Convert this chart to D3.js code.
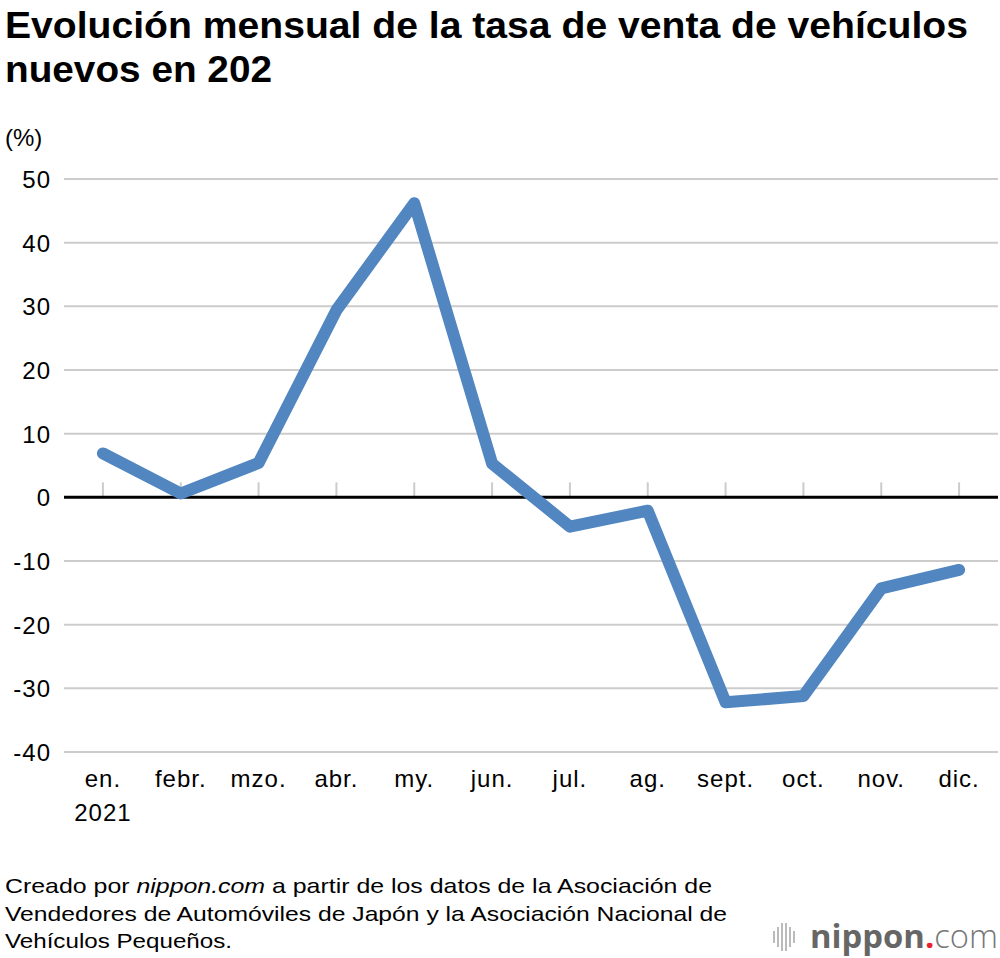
<!DOCTYPE html>
<html lang="es">
<head>
<meta charset="utf-8">
<title>Tasa de venta de vehículos nuevos</title>
<script src="https://d3js.org/d3.v7.min.js"></script>
<style>
  html, body { margin: 0; padding: 0; background: #fff; }
  svg text { font-family: "Liberation Sans", Arial, Helvetica, sans-serif; fill: #000; }
</style>
</head>
<body>
<div id="chart"></div>
<script>
// data
var months = ["en.", "febr.", "mzo.", "abr.", "my.", "jun.", "jul.", "ag.", "sept.", "oct.", "nov.", "dic."];
var rate = [6.9, 0.6, 5.4, 29.4, 46.2, 5.3, -4.6, -2.1, -32.2, -31.2, -14.3, -11.4];
var yTicks = [50, 40, 30, 20, 10, 0, -10, -20, -30, -40];

var w = 1000, h = 958;
var mLeft = 64, mRight = 998, mTop = 179, mBottom = 752;

var svg = d3.select("#chart").append("svg")
  .attr("width", w).attr("height", h);

var x = d3.scaleBand().domain(months).range([mLeft, mRight]);
var y = d3.scaleLinear().domain([-40, 50]).range([mBottom, mTop]);
function cx(m) { return x(m) + x.bandwidth() / 2; }

// title
svg.append("text").attr("x", 5).attr("y", 38)
  .style("font-size", "36px").style("font-weight", "bold")
  .attr("textLength", 963).attr("lengthAdjust", "spacingAndGlyphs")
  .text("Evolución mensual de la tasa de venta de vehículos");
svg.append("text").attr("x", 5).attr("y", 82)
  .style("font-size", "36px").style("font-weight", "bold")
  .attr("textLength", 267).attr("lengthAdjust", "spacingAndGlyphs")
  .text("nuevos en 202");

svg.append("text").attr("x", 5).attr("y", 146)
  .style("font-size", "24px").text("(%)");

// gridlines
svg.append("g").selectAll("line")
  .data(yTicks.filter(function(d) { return d !== 0; }))
  .enter().append("line")
  .attr("x1", mLeft).attr("x2", mRight)
  .attr("y1", function(d) { return y(d); })
  .attr("y2", function(d) { return y(d); })
  .attr("stroke", "#cccccc").attr("stroke-width", 2);

// y labels
svg.append("g").selectAll("text")
  .data(yTicks).enter().append("text")
  .attr("x", 51).attr("y", function(d) { return y(d) + 9; })
  .attr("text-anchor", "end")
  .style("font-size", "24px").style("letter-spacing", "1px")
  .text(function(d) { return d; });

// small ticks at months
svg.append("g").selectAll("line")
  .data(months).enter().append("line")
  .attr("x1", cx).attr("x2", cx)
  .attr("y1", y(0) - 15).attr("y2", y(0))
  .attr("stroke", "#cccccc").attr("stroke-width", 2);

// zero line
svg.append("line")
  .attr("x1", mLeft).attr("x2", mRight)
  .attr("y1", y(0)).attr("y2", y(0))
  .attr("stroke", "#000").attr("stroke-width", 3);

// x labels
svg.append("g").selectAll("text")
  .data(months).enter().append("text")
  .attr("x", cx)
  .attr("y", 787)
  .attr("text-anchor", "middle")
  .style("font-size", "24px").style("letter-spacing", "1px")
  .text(function(d) { return d; });
svg.append("text")
  .attr("x", cx(months[0])).attr("y", 821)
  .attr("text-anchor", "middle")
  .style("font-size", "24px").style("letter-spacing", "1px").text("2021");

// line
var line = d3.line()
  .x(function(d, i) { return cx(months[i]); })
  .y(function(d) { return y(d); });

svg.append("path")
  .datum(rate)
  .attr("d", line)
  .attr("fill", "none")
  .attr("stroke", "#5186c0")
  .attr("stroke-width", 12)
  .attr("stroke-linejoin", "round")
  .attr("stroke-linecap", "round");

// source note
var src = svg.append("text").attr("x", 5).attr("y", 893).style("font-size", "21px")
  .attr("textLength", 707).attr("lengthAdjust", "spacingAndGlyphs");
src.append("tspan").text("Creado por ");
src.append("tspan").style("font-style", "italic").text("nippon.com");
src.append("tspan").text(" a partir de los datos de la Asociación de");
svg.append("text").attr("x", 5).attr("y", 921).style("font-size", "21px")
  .attr("textLength", 722).attr("lengthAdjust", "spacingAndGlyphs")
  .text("Vendedores de Automóviles de Japón y la Asociación Nacional de");
svg.append("text").attr("x", 5).attr("y", 948).style("font-size", "21px")
  .attr("textLength", 227).attr("lengthAdjust", "spacingAndGlyphs")
  .text("Vehículos Pequeños.");

// logo
var logo = svg.append("g");
var bars = [[773, 6], [777, 10], [781, 14], [785, 14], [789, 10], [793, 6]];
logo.selectAll("rect").data(bars).enter().append("rect")
  .attr("x", function(d) { return d[0]; })
  .attr("y", function(d) { return 937 - d[1]; })
  .attr("width", 2).attr("height", function(d) { return d[1] * 2; })
  .attr("fill", "#bbbbbb");
var lt = logo.append("text").attr("x", 810).attr("y", 948)
  .style("font-family", "'Open Sans', sans-serif").style("font-size", "33px")
  .attr("textLength", 188).attr("lengthAdjust", "spacingAndGlyphs");
lt.append("tspan").attr("fill", "#666").style("font-weight", "bold").text("nippon");
lt.append("tspan").attr("fill", "#e8232a").style("font-weight", "bold").text(".");
lt.append("tspan").attr("fill", "#777").style("font-weight", "300").text("com");
</script>
</body>
</html>
